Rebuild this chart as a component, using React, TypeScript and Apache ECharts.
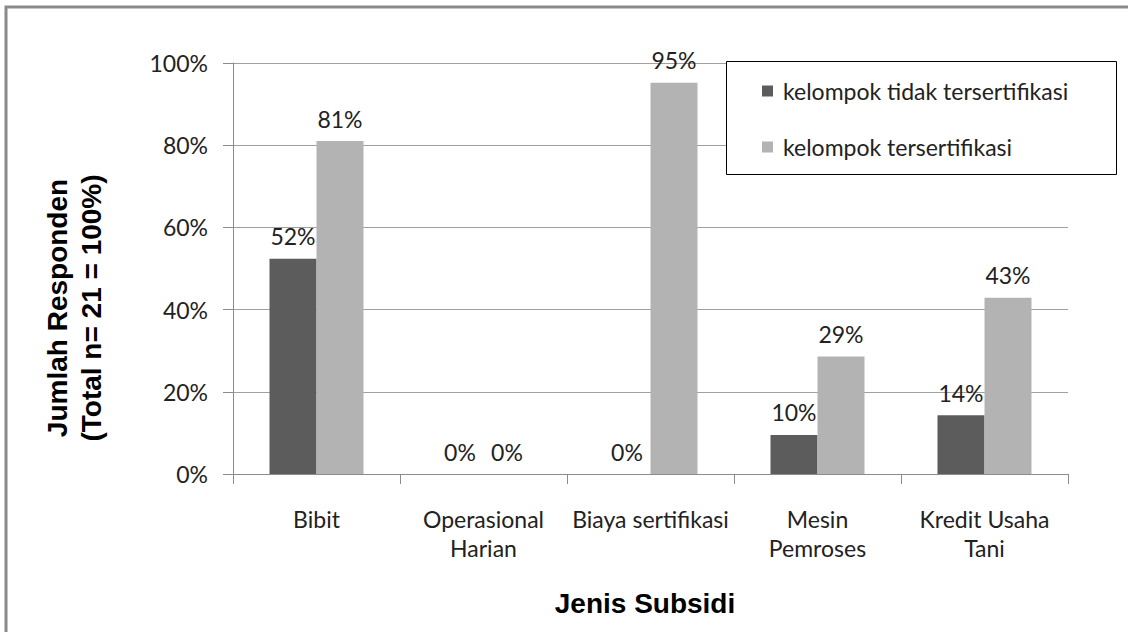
import React, { useEffect, useRef } from "react";
import * as echarts from "echarts";

const categories = ["Bibit", "Operasional\nHarian", "Biaya sertifikasi", "Mesin\nPemroses", "Kredit Usaha\nTani"];
const seriesNames = ["kelompok tidak tersertifikasi", "kelompok tersertifikasi"];
const tidakTersertifikasi = [52.4, 0, 0, 9.5, 14.3];
const tersertifikasi = [81.0, 0, 95.2, 28.6, 42.9];
const yTicks = { min: 0, max: 100, interval: 20 };
const yTitle = "Jumlah Responden\n(Total n= 21 = 100%)";
const xTitle = "Jenis Subsidi";

const FONT = "Lato, 'Open Sans', sans-serif";
const BOLD = "'Liberation Sans', Arial, sans-serif";

export default function App() {
  const ref = useRef<HTMLDivElement>(null);
  useEffect(() => {
    if (!ref.current) return;
    const chart = echarts.init(ref.current, null, { renderer: "svg" });
    const labelStyle = {
      show: true,
      position: "top",
      distance: 11,
      fontFamily: FONT,
      fontSize: 23,
      color: "#222",
      formatter: (p: any) => Math.round(p.value) + "%",
    };
    chart.setOption({
      animation: false,
      backgroundColor: "#fff",
      grid: { left: 233, right: 60, top: 63, bottom: 158, containLabel: false },
      xAxis: {
        type: "category",
        data: categories,
        axisLine: { lineStyle: { color: "#8c8c8c", width: 1 } },
        axisTick: { show: true, length: 10, lineStyle: { color: "#8c8c8c" } },
        axisLabel: {
          margin: 30,
          fontFamily: FONT,
          fontSize: 23,
          lineHeight: 29,
          color: "#222",
          interval: 0,
        },
      },
      yAxis: {
        type: "value",
        min: yTicks.min,
        max: yTicks.max,
        interval: yTicks.interval,
        axisLine: { show: true, lineStyle: { color: "#8c8c8c" } },
        axisTick: { show: true, length: 10, lineStyle: { color: "#8c8c8c" } },
        splitLine: { lineStyle: { color: "#a0a0a0", width: 1 } },
        axisLabel: {
          margin: 25,
          formatter: "{value}%",
          fontFamily: FONT,
          fontSize: 23,
          color: "#222",
        },
      },
      legend: {
        show: true,
        orient: "vertical",
        left: 762,
        top: 79,
        padding: 0,
        itemWidth: 11,
        itemHeight: 11,
        itemGap: 32,
        icon: "rect",
        z: 20,
        textStyle: {
          fontFamily: FONT,
          fontSize: 23,
          lineHeight: 24,
          color: "#222",
          padding: [0, 0, 0, 5],
        },
        data: seriesNames,
      },
      graphic: [
        {
          type: "rect",
          shape: { x: 6, y: 7, width: 1300, height: 900 },
          style: { fill: "none", stroke: "#8a8a8a", lineWidth: 3 },
          z: 1,
          silent: true,
        },
        {
          type: "rect",
          shape: { x: 726.5, y: 61.5, width: 390, height: 113 },
          style: { fill: "#fff", stroke: "#000", lineWidth: 1 },
          z: 10,
          silent: true,
        },
        {
          type: "text",
          x: 74,
          y: 308,
          rotation: Math.PI / 2,
          style: {
            text: yTitle,
            fontFamily: BOLD,
            fontWeight: "bold",
            fontSize: 28,
            lineHeight: 34,
            fill: "#000",
            align: "center",
            verticalAlign: "middle",
          },
          z: 5,
        },
        {
          type: "text",
          x: 645,
          y: 603,
          style: {
            text: xTitle,
            fontFamily: BOLD,
            fontWeight: "bold",
            fontSize: 28,
            fill: "#000",
            align: "center",
            verticalAlign: "middle",
          },
          z: 5,
        },
      ],
      series: [
        {
          name: seriesNames[0],
          type: "bar",
          data: tidakTersertifikasi,
          barWidth: 47,
          barGap: "0%",
          itemStyle: { color: "#5c5c5c" },
          label: labelStyle,
        },
        {
          name: seriesNames[1],
          type: "bar",
          data: tersertifikasi,
          barWidth: 47,
          barGap: "0%",
          itemStyle: { color: "#b3b3b3" },
          label: labelStyle,
        },
      ],
    });
    return () => chart.dispose();
  }, []);
  return (
    <div
      ref={ref}
      style={{ position: "absolute", left: 0, top: 0, width: 1128, height: 632 }}
    />
  );
}
